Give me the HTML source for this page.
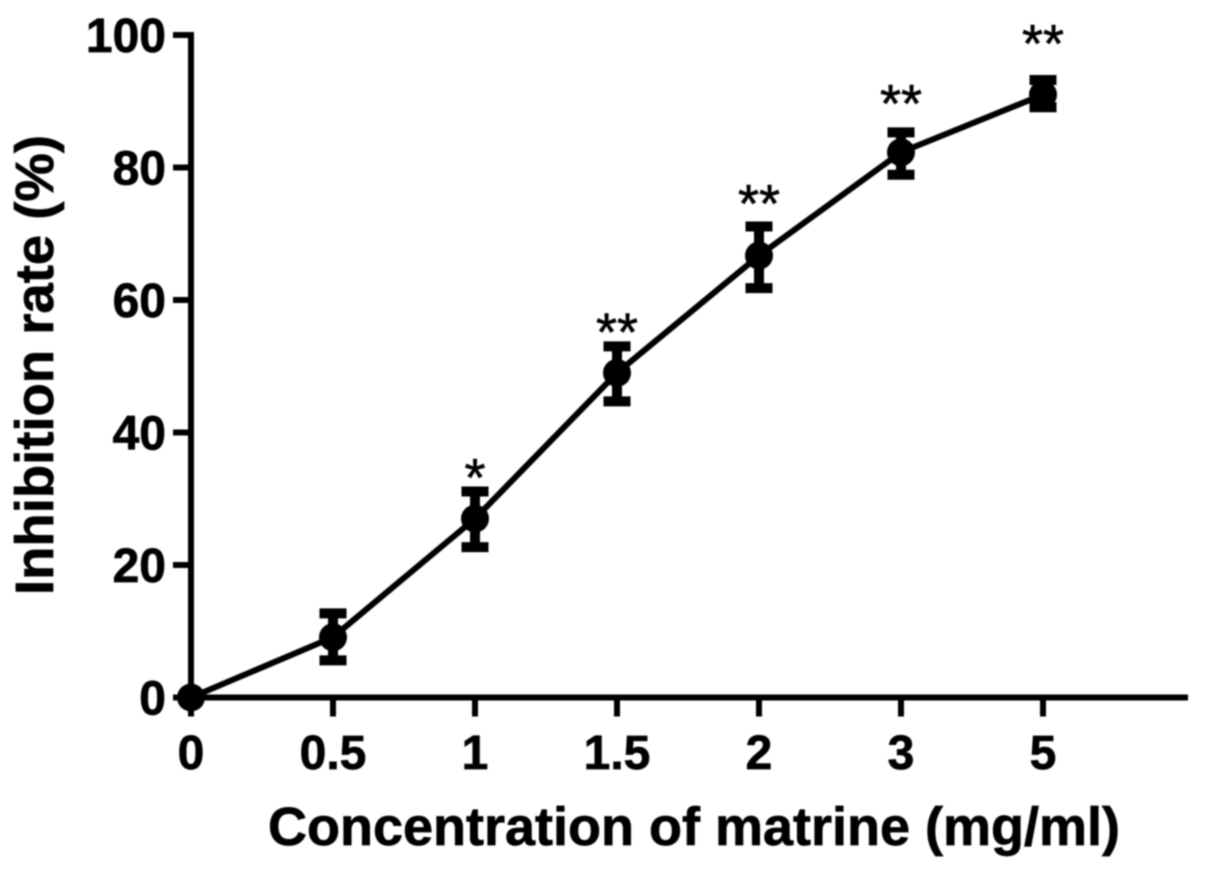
<!DOCTYPE html>
<html lang="en">
<head>
<meta charset="utf-8">
<title>Inhibition rate vs concentration of matrine</title>
<style>
html,body{margin:0;padding:0;background:#fff;}
svg{display:block;filter:blur(0.7px);}
text{font-family:"Liberation Sans",sans-serif;fill:#000;}
.t{font-weight:bold;font-size:48px;stroke:#000;stroke-width:0.7px;}
.title{font-weight:bold;font-size:54px;stroke:#000;stroke-width:0.7px;}
.star{font-size:54px;stroke:#000;stroke-width:0.6px;}
</style>
</head>
<body>
<svg id="chart" xmlns="http://www.w3.org/2000/svg" width="1205" height="872" viewBox="0 0 1205 872"></svg>
<script>
const categories = ['0', '0.5', '1', '1.5', '2', '3', '5'];
const inhibitionRate = [0, 9.1, 27, 49, 66.7, 82.3, 91];
const errorUpper = [0, 12.7, 31.1, 53, 71.1, 85.3, 93.2];
const errorLower = [0, 5.6, 22.7, 44.7, 61.8, 78.9, 89.1];
const significance = ['', '', '*', '**', '**', '**', '**'];
const significanceLevel = [0, 0, 30.4, 52.4, 71.8, 86.9, 95.9];
const yTicks = [0, 20, 40, 60, 80, 100];

const svg = document.getElementById('chart');
const NS = 'http://www.w3.org/2000/svg';
const xOrigin = 191, xStep = 142, xEnd = 1188;
const yZero = 697.5, yTop = 35, yMax = 100;
const xScale = function (i) { return xOrigin + i * xStep; };
const yScale = function (v) { return yZero - (v / yMax) * (yZero - yTop); };

function make(tag, attrs, text) {
  const el = document.createElementNS(NS, tag);
  Object.keys(attrs).forEach(function (k) { el.setAttribute(k, attrs[k]); });
  if (text !== undefined) el.textContent = text;
  svg.appendChild(el);
  return el;
}
const ink = '#000';
let node;

node = make('line', {x1: xOrigin, y1: yTop - 3, x2: xOrigin, y2: yZero + 3, stroke: ink, 'stroke-width': 6});



node = make('line', {x1: xOrigin - 3, y1: yZero, x2: xEnd, y2: yZero, stroke: ink, 'stroke-width': 6});



yTicks.forEach(function (v) {
  const y = yScale(v);
  const tick = make('line', {x1: xOrigin - 18, y1: y, x2: xOrigin, y2: y, stroke: ink, 'stroke-width': 6});
  
  
  const label = make('text', {class: 't', x: 166, y: y + 17, 'text-anchor': 'end'}, String(v));
  
  
});

categories.forEach(function (c, i) {
  const x = xScale(i);
  const tick = make('line', {x1: x, y1: yZero, x2: x, y2: yZero + 19, stroke: ink, 'stroke-width': 6});
  
  
  const label = make('text', {class: 't', x: x, y: 769, 'text-anchor': 'middle'}, c);
  
  
});

const linePoints = inhibitionRate.map(function (v, i) { return xScale(i) + ',' + yScale(v); }).join(' ');
node = make('polyline', {points: linePoints, fill: 'none', stroke: ink, 'stroke-width': 6, 'stroke-linejoin': 'round'});



inhibitionRate.forEach(function (v, i) {
  const x = xScale(i);
  const yu = yScale(errorUpper[i]);
  const yl = yScale(errorLower[i]);
  if (errorUpper[i] !== errorLower[i]) {
    const stem = make('line', {x1: x, y1: yu, x2: x, y2: yl, stroke: ink, 'stroke-width': 10});
    
    
    const capTop = make('line', {x1: x - 13.5, y1: yu, x2: x + 13.5, y2: yu, stroke: ink, 'stroke-width': 10});
    
    
    const capBottom = make('line', {x1: x - 13.5, y1: yl, x2: x + 13.5, y2: yl, stroke: ink, 'stroke-width': 10});
    
    
  }
  const dot = make('circle', {cx: x, cy: yScale(v), r: 14, fill: ink});
  
  
  if (significance[i]) {
    const star = make('text', {class: 'star', x: x, y: yScale(significanceLevel[i]), 'text-anchor': 'middle'}, significance[i]);
    
    
  }
});

node = make('text', {class: 'title', x: 694, y: 845, 'text-anchor': 'middle', textLength: 852, lengthAdjust: 'spacingAndGlyphs'}, 'Concentration of matrine (mg/ml)');



node = make('text', {class: 'title', x: 0, y: 0, 'text-anchor': 'middle', transform: 'translate(53 365) rotate(-90)', textLength: 460, lengthAdjust: 'spacingAndGlyphs'}, 'Inhibition rate (%)');


</script>
</body>
</html>
